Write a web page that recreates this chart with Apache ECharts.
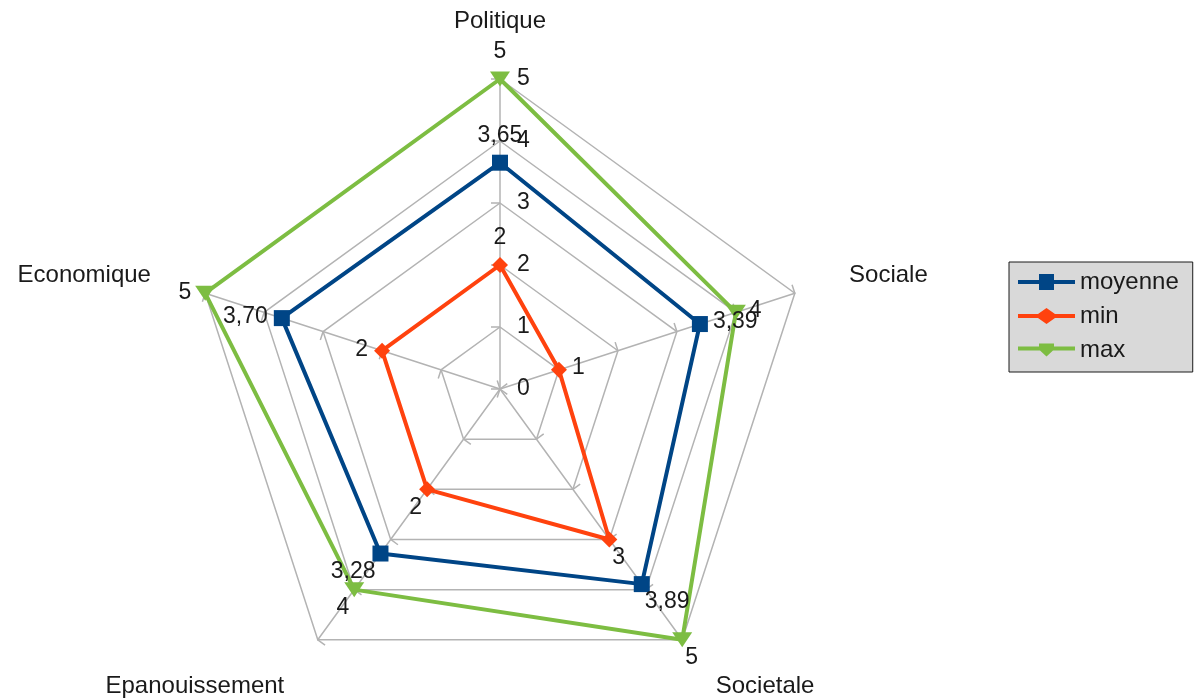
<!DOCTYPE html>
<html>
<head>
<meta charset="utf-8">
<script src="https://cdn.jsdelivr.net/npm/echarts@6/dist/echarts.min.js"></script>
<style>
  html, body { margin: 0; padding: 0; background: #fff; }
  #chart { width: 1197px; height: 699px; }
</style>
</head>
<body>
<div id="chart"></div>
<script>
// axes listed counter-clockwise from the top, the order ECharts draws them
const indicators = ["Politique", "Economique", "Epanouissement", "Societale", "Sociale"];
const scaleMax = 5;
const moyenne = [3.65, 3.70, 3.28, 3.89, 3.39];
const minValues = [2, 2, 2, 3, 1];
const maxValues = [5, 5, 4, 5, 4];

const center = [500, 389];
const textColor = "#1a1a1a";
const font = "Liberation Sans";

// label offset by direction from the centre: top, right, bottom-right, bottom-left, left
const labelOffsets = [
  { dx: 0, dy: -27, align: "center" },
  { dx: 13, dy: -2, align: "left" },
  { dx: 3, dy: 18, align: "left" },
  { dx: -5, dy: 18, align: "right" },
  { dx: -14, dy: -1, align: "right" },
];

const legendIcons = {
  moyenne: "path://M0,6H21V0H36V6H57V10H36V16H21V10H0Z",
  min: "path://M0,6H20L28.5,0L37,6H57V10H37L28.5,16L20,10H0Z",
  max: "path://M0,6H21V3H36V6H57V10H35L28.5,16L22,10H0Z",
};

const fmtDecimal = (p) => p.value.toFixed(2).replace(".", ",");
const fmtInt = (p) => String(p.value);

const chart = echarts.init(document.getElementById("chart"));
chart.setOption({
  animation: false,
  textStyle: { fontFamily: font },
  legend: {
    orient: "vertical",
    left: 1009,
    top: 262,
    padding: [8, 14, 10, 9],
    itemGap: 10,
    itemWidth: 57,
    itemHeight: 16,
    backgroundColor: "#d9d9d9",
    borderColor: "#1a1a1a",
    borderWidth: 1,
    borderRadius: 0,
    textStyle: { fontSize: 24, color: textColor, fontFamily: font },
    data: [
      { name: "moyenne", icon: legendIcons.moyenne },
      { name: "min", icon: legendIcons.min },
      { name: "max", icon: legendIcons.max },
    ],
  },
  radar: {
    center: center,
    radius: 310,
    startAngle: 90,
    splitNumber: 5,
    shape: "polygon",
    nameGap: 57,
    axisName: { color: textColor, fontSize: 24, fontFamily: font, lineHeight: 1 },
    indicator: indicators.map((name, i) => {
      const ind = { name: name, min: 0, max: scaleMax };
      if (i === 0) ind.axisLabel = { show: true };
      return ind;
    }),
    axisLine: { lineStyle: { color: "#b3b3b3", width: 1.5 } },
    splitLine: { lineStyle: { color: "#b3b3b3", width: 1.5 } },
    splitArea: { show: false },
    axisTick: { show: true, length: 9, lineStyle: { color: "#b3b3b3", width: 1.5 } },
    axisLabel: { show: false, color: textColor, fontSize: 23, fontFamily: font, margin: -17, align: "left" },
  },
  series: [
    {
      type: "radar",
      labelLayout: function (params) {
        const r = params.rect;
        const x = r.x + r.width / 2;
        const y = r.y + r.height / 2;
        const ang = Math.atan2(center[1] - y, x - center[0]) * 180 / Math.PI;
        const idx = ((Math.round((90 - ang) / 72) % 5) + 5) % 5;
        const o = labelOffsets[idx];
        return { x: x + o.dx, y: y + o.dy, align: o.align, verticalAlign: "middle" };
      },
      data: [
        {
          name: "moyenne",
          value: moyenne,
          symbol: "rect",
          symbolSize: 16,
          lineStyle: { color: "#004586", width: 4 },
          itemStyle: { color: "#004586" },
          label: { show: true, formatter: fmtDecimal, color: textColor, fontSize: 23, fontFamily: font },
        },
        {
          name: "min",
          value: minValues,
          symbol: "diamond",
          symbolSize: 16,
          lineStyle: { color: "#ff420e", width: 4 },
          itemStyle: { color: "#ff420e" },
          label: { show: true, formatter: fmtInt, color: textColor, fontSize: 23, fontFamily: font },
        },
        {
          name: "max",
          value: maxValues,
          symbol: "path://M0,0L10,0L5,8Z",
          symbolSize: [20, 15],
          lineStyle: { color: "#7dbd42", width: 4 },
          itemStyle: { color: "#7dbd42" },
          label: { show: true, formatter: fmtInt, color: textColor, fontSize: 23, fontFamily: font },
        },
      ],
    },
  ],
});
</script>
</body>
</html>
